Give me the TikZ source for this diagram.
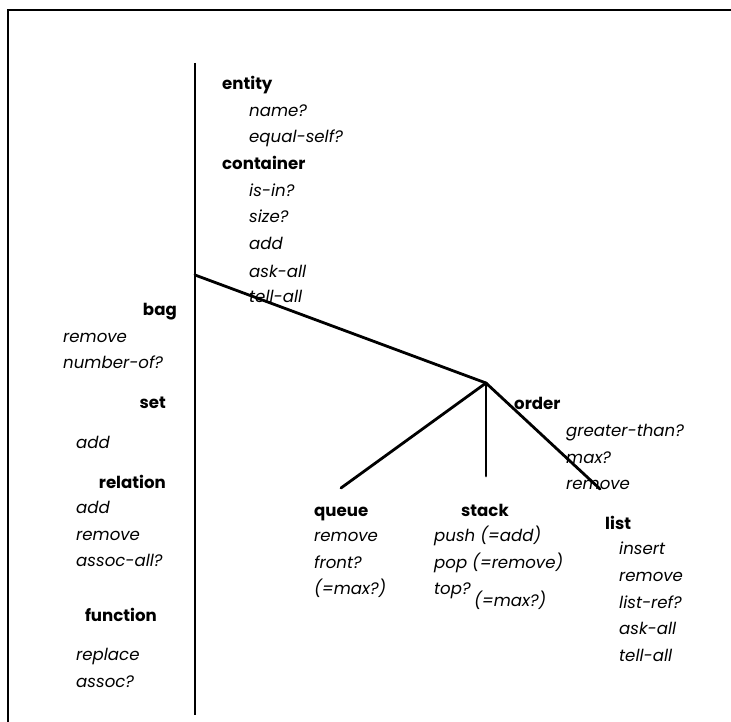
\documentclass[tikz,border=0pt]{standalone}
\usepackage{fontspec}
\setmainfont{Poppins}
\begin{document}
\begin{tikzpicture}[x=1pt,y=-1pt,
  cls/.style={inner sep=0pt,font=\fontsize{16.6}{18}\selectfont\bfseries},
  op/.style={inner sep=0pt,font=\fontsize{16.6}{18}\selectfont\itshape},
  lft/.style={anchor=base west,yshift=-5pt},
  rgt/.style={anchor=base east,yshift=-5pt},
  frame/.style={line width=2.4pt},
  branch/.style={line width=2.8pt,line cap=round}]
\useasboundingbox (0,0) rectangle (731,722);

% outer frame (left and top edges)
\coordinate (fbl) at (8,722);
\coordinate (ftl) at (8,10);
\coordinate (ftr) at (731,10);
\draw[frame] (fbl) -- (ftl) -- (ftr);

% spine and branches
\coordinate (spineTop) at (195,63);
\coordinate (spineBot) at (195,715);
\coordinate (spineJoin) at (195,275);
\coordinate (hub) at (486,383);
\coordinate (queueEnd) at (341,488);
\coordinate (stackEnd) at (486,476);
\coordinate (orderEnd) at (600,489);
\draw[line width=2.3pt] (spineTop) -- (spineBot);
\draw[branch] (spineJoin) -- (hub);
\draw[branch] (hub) -- (queueEnd);
\draw[branch] (hub) -- (stackEnd);
\draw[branch] (hub) -- (orderEnd);

% entity / container
\node[cls,lft] (entity) at (222,85) {entity};
\node[op,lft] (e1) at (249,112) {name?};
\node[op,lft] (e2) at (249,138) {equal-self?};
\node[cls,lft] (container) at (222,165) {container};
\node[op,lft] (c1) at (249,192) {is-in?};
\node[op,lft] (c2) at (249,218) {size?};
\node[op,lft] (c3) at (249,245) {add};
\node[op,lft] (c4) at (249,272) {ask-all};
\node[op,lft] (c5) at (249,297) {tell-all};

% bag family
\node[cls,rgt] (bag) at (177,310) {bag};
\node[op,lft] (b1) at (63,337) {remove};
\node[op,lft] (b2) at (63,363) {number-of?};
\node[cls,rgt] (set) at (166,403) {set};
\node[op,lft] (s1) at (76,443) {add};
\node[cls,rgt] (relation) at (166,483) {relation};
\node[op,lft] (r1) at (76,508) {add};
\node[op,lft] (r2) at (76,535) {remove};
\node[op,lft] (r3) at (76,561) {assoc-all?};
\node[cls,rgt] (function) at (157,616) {function};
\node[op,lft] (f1) at (76,655) {replace};
\node[op,lft] (f2) at (76,682) {assoc?};

% order family
\node[cls,lft] (order) at (514,404) {order};
\node[op,lft] (o1) at (566,431) {greater-than?};
\node[op,lft] (o2) at (566,458) {max?};
\node[op,lft] (o3) at (566,484) {remove};

\node[cls,lft] (queue) at (314,511) {queue};
\node[op,lft] (q1) at (314,536) {remove};
\node[op,lft] (q2) at (314,563) {front?};
\node[op,lft] (q3) at (314,589) {(=max?)};

\node[cls,lft] (stack) at (461,511) {stack};
\node[op,lft] (k1) at (434,536) {push (=add)};
\node[op,lft] (k2) at (434,563) {pop (=remove)};
\node[op,lft] (k3) at (434,589) {top?};
\node[op,lft] (k4) at (474,601) {(=max?)};

\node[cls,lft] (list) at (605,524) {list};
\node[op,lft] (l1) at (619,549) {insert};
\node[op,lft] (l2) at (619,576) {remove};
\node[op,lft] (l3) at (619,603) {list-ref?};
\node[op,lft] (l4) at (619,629) {ask-all};
\node[op,lft] (l5) at (619,656) {tell-all};
\end{tikzpicture}
\end{document}
